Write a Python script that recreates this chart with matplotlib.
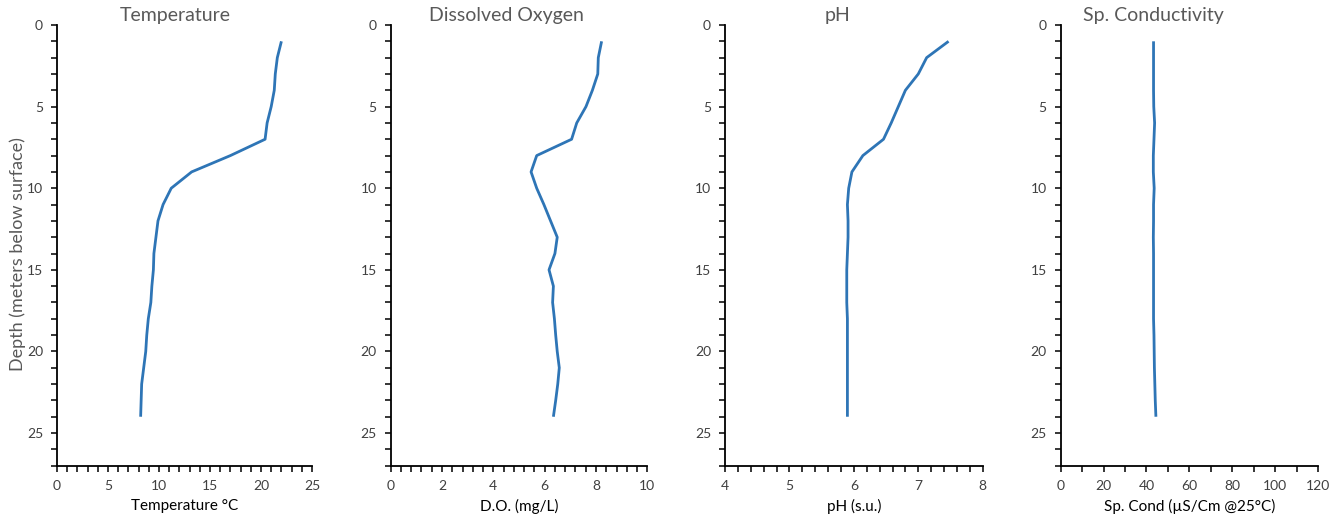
import matplotlib
matplotlib.use("Agg")
import matplotlib.pyplot as plt
from matplotlib.ticker import MultipleLocator

plt.rcParams['font.family'] = ['Lato', 'DejaVu Sans']

# Profile depths (m below surface)
depth = list(range(1, 25))

temperature = [22.0, 21.6, 21.4, 21.3, 21.0, 20.6, 20.4, 17.0, 13.2, 11.2, 10.4, 9.9,
               9.7, 9.5, 9.45, 9.3, 9.2, 8.95, 8.8, 8.7, 8.5, 8.3, 8.25, 8.2]
dissolved_oxygen = [8.22, 8.09, 8.07, 7.86, 7.61, 7.25, 7.05, 5.69, 5.47, 5.69, 5.97, 6.23,
                    6.49, 6.40, 6.17, 6.34, 6.31, 6.38, 6.43, 6.49, 6.57, 6.51, 6.43, 6.34]
ph = [7.47, 7.13, 7.00, 6.80, 6.69, 6.58, 6.46, 6.14, 5.97, 5.92, 5.90, 5.91,
      5.91, 5.90, 5.89, 5.89, 5.89, 5.90, 5.90, 5.90, 5.90, 5.90, 5.90, 5.90]
conductivity = [43.3, 43.3, 43.3, 43.3, 43.4, 43.8, 43.5, 43.2, 43.2, 43.6, 43.3, 43.3,
                43.2, 43.3, 43.3, 43.3, 43.3, 43.3, 43.5, 43.6, 43.7, 43.9, 44.1, 44.4]

titles = ["Temperature", "Dissolved Oxygen", "pH", "Sp. Conductivity"]
xlabels = ["Temperature °C", "D.O. (mg/L)", "pH (s.u.)", "Sp. Cond (µS/Cm @25°C)"]
series = [temperature, dissolved_oxygen, ph, conductivity]
xlims = [(0, 25), (0, 10), (4, 8), (0, 120)]
xmajor = [5, 2, 1, 20]
xminor = [1, 0.4, 0.2, 10]

W, H = 1343, 517
fig = plt.figure(figsize=(W / 100, H / 100), dpi=100)

# axes boxes in pixels: left, right
boxes = [(57, 312), (390.7, 647.3), (725, 982.7), (1060.7, 1318)]
top_px, bottom_px = 25, 465.7
title_x = [175, 506, 838, 1153]

line_color = "#2E75B6"
tick_color = "#404040"
title_color = "#595959"

for i in range(4):
    l, r = boxes[i]
    ax = fig.add_axes([l / W, 1 - bottom_px / H, (r - l) / W, (bottom_px - top_px) / H])
    ax.plot(series[i], depth, color=line_color, lw=2.0, solid_capstyle='butt',
            solid_joinstyle='round')
    ax.set_xlim(*xlims[i])
    ax.set_ylim(27, 0)
    ax.xaxis.set_major_locator(MultipleLocator(xmajor[i]))
    ax.xaxis.set_minor_locator(MultipleLocator(xminor[i]))
    ax.yaxis.set_major_locator(MultipleLocator(5))
    ax.yaxis.set_minor_locator(MultipleLocator(1))
    for side in ("top", "right"):
        ax.spines[side].set_visible(False)
    for side in ("left", "bottom"):
        ax.spines[side].set_linewidth(1.3)
        ax.spines[side].set_color("black")
    ax.tick_params(which="both", direction="out", length=4, width=1.1, color="black",
                   labelsize=10, labelcolor=tick_color, pad=6)
    ax.set_xlabel(xlabels[i], fontsize=11, color="black", labelpad=5)
    fig.text(title_x[i] / W, 1 - 15 / H, titles[i], fontsize=14, color=title_color,
             ha="center", va="center")

fig.text(18 / W, 1 - 254 / H, "Depth (meters below surface)", rotation=90,
         fontsize=13, color=title_color, ha="center", va="center")

fig.savefig("out.png", dpi=100)
